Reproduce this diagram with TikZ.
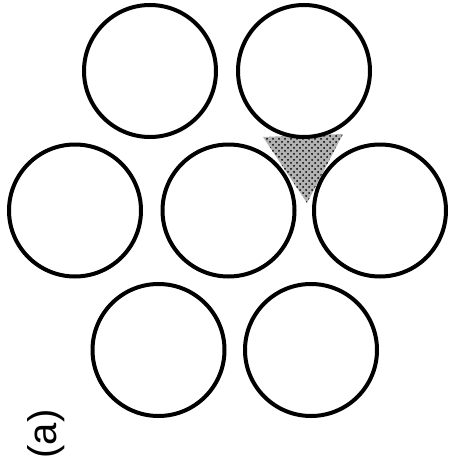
\documentclass[tikz,border=0pt]{standalone}
\usepackage{fontspec}
\setsansfont{Liberation Sans}
\usetikzlibrary{patterns}
\tikzset{
  rod/.style={circle, draw=black, fill=white, line width=2pt, minimum size=66pt, inner sep=0pt},
  gap/.style={fill=black!30, postaction={pattern=crosshatch dots, pattern color=black}}
}
\begin{document}
\begin{tikzpicture}[x=0.5pt, y=-0.5pt]
      \useasboundingbox (0,0) rectangle (450,466);
      % Interstitial triangle (behind the rods)
      \coordinate (tl) at (263,137);
      \coordinate (tr) at (343,134);
      \coordinate (tb) at (307,203);
      \fill[gap] (tl) -- (tr) -- (tb) -- cycle;
      % Top row
      \node[rod] (r1) at (150,71) {};
      \node[rod] (r2) at (304,71) {};
      % Middle row
      \node[rod] (r3) at (75,210.5) {};
      \node[rod] (r4) at (228.5,210.5) {};
      \node[rod] (r5) at (380,210.5) {};
      % Bottom row
      \node[rod] (r6) at (158.5,350) {};
      \node[rod] (r7) at (311,350) {};
      % Panel label
      \node[rotate=90, font=\sffamily\fontsize{20}{24}\selectfont, inner sep=0pt] (lbl) at (46,434) {(a)};
    \end{tikzpicture}
\end{document}
